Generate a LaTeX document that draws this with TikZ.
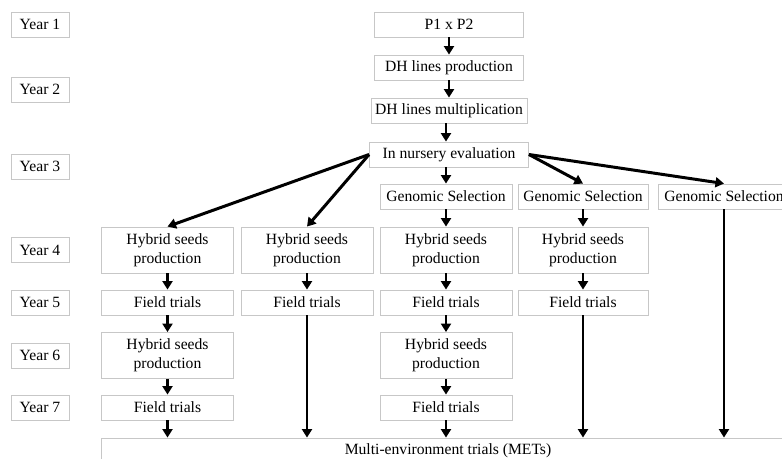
\documentclass[tikz,border=0pt]{standalone}
\usepackage{fontspec}
\setmainfont{Liberation Serif}
\usetikzlibrary{arrows.meta}

\begin{document}
\begin{tikzpicture}[x=0.02cm, y=-0.02cm,
    box/.style={draw=black!22, line width=0.5pt, minimum width=2.64cm, minimum height=0.5cm,
                inner sep=0pt, align=center, font=\fontsize{8.9}{10.8}\selectfont},
    tall/.style={box, minimum height=0.92cm},
    yearbox/.style={box, minimum width=1.16cm},
    arr/.style={line width=1.7pt, -{Triangle[width=0.2cm, length=0.17cm]}}]
  \clip (0,0) rectangle (782,459);
  % year labels
  \foreach \n/\y in {1/24.5, 2/89.5, 3/166.5, 4/250, 5/302.5, 6/355.5, 7/407.5}
    \node[yearbox] (year\n) at (40,\y) {Year \n};

  % common trunk
  \node[box, minimum width=2.98cm] (cross)   at (449,24.5)  {P1 x P2};
  \node[box, minimum width=2.98cm] (dhprod)  at (449,67.5)  {DH lines production};
  \node[box, minimum width=3.12cm] (dhmult)  at (449,110.5) {DH lines multiplication};
  \node[box, minimum width=3.18cm] (nursery) at (449,154.5) {In nursery evaluation};

  % genomic selection
  \node[box] (gs3) at (446,196.5) {Genomic Selection};
  \node[box, minimum width=2.6cm] (gs4) at (583,196.5) {Genomic Selection};
  \node[box] (gs5) at (724,196.5) {Genomic Selection};

  % year 4 and 5
  \node[tall] (hyb1) at (167.5,250) {Hybrid seeds\\production};
  \node[tall] (hyb2) at (307,250)   {Hybrid seeds\\production};
  \node[tall] (hyb3) at (446,250)   {Hybrid seeds\\production};
  \node[tall, minimum width=2.6cm] (hyb4) at (583,250) {Hybrid seeds\\production};
  \node[box] (ft1) at (167.5,302.5) {Field trials};
  \node[box] (ft2) at (307,302.5)   {Field trials};
  \node[box] (ft3) at (446,302.5)   {Field trials};
  \node[box, minimum width=2.6cm] (ft4) at (583,302.5) {Field trials};

  % year 6 and 7
  \node[tall] (hyb1b) at (167.5,355.5) {Hybrid seeds\\production};
  \node[tall] (hyb3b) at (446,355.5)   {Hybrid seeds\\production};
  \node[box] (ft1b) at (167.5,407.5) {Field trials};
  \node[box] (ft3b) at (446,407.5)   {Field trials};

  \node[box, minimum width=13.88cm] (met) at (448,450.5) {Multi-environment trials (METs)};

  % arrows
  \draw[arr] (cross) -- (dhprod);
  \draw[arr] (dhprod) -- (dhmult);
  \draw[arr] (dhmult.south -| gs3) -- (nursery.north -| gs3);
  \draw[arr] (nursery.south -| gs3) -- (gs3);
  \draw[arr] (nursery.west) -- (hyb1.north);
  \draw[arr] (nursery.west) -- (hyb2.north);
  \draw[arr] (nursery.east) -- (gs4.north);
  \draw[arr] (nursery.east) -- (gs5.north);
  \draw[arr] (gs3) -- (hyb3);
  \draw[arr] (gs4) -- (hyb4);
  \draw[arr] (hyb1) -- (ft1);
  \draw[arr] (hyb2) -- (ft2);
  \draw[arr] (hyb3) -- (ft3);
  \draw[arr] (hyb4) -- (ft4);
  \draw[arr] (ft1) -- (hyb1b);
  \draw[arr] (ft3) -- (hyb3b);
  \draw[arr] (hyb1b) -- (ft1b);
  \draw[arr] (hyb3b) -- (ft3b);
  \draw[arr] (ft1b) -- (ft1b |- met.north);
  \draw[arr] (ft3b) -- (ft3b |- met.north);
  \draw[arr] (ft2) -- (ft2 |- met.north);
  \draw[arr] (ft4) -- (ft4 |- met.north);
  \draw[arr] (gs5) -- (gs5 |- met.north);
\end{tikzpicture}
\end{document}
